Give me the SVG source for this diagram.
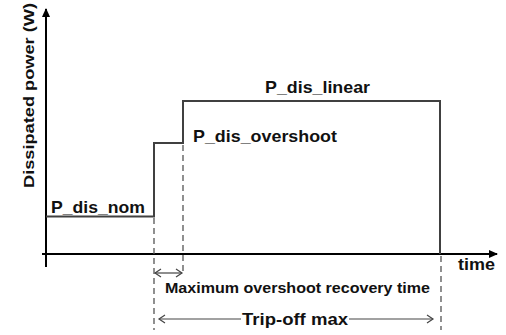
<svg xmlns="http://www.w3.org/2000/svg" width="506" height="335" viewBox="0 0 506 335">
<style>
text{font-family:"Liberation Sans",Arial,sans-serif;font-weight:bold;fill:#111}
.lbl{font-size:17px}
.ax{font-size:15.5px}
.sm{font-size:15.5px}
.axis{stroke:#000;stroke-width:2;fill:none}
.curve{stroke:#404040;stroke-width:2;fill:none}
.dash{stroke:#555;stroke-width:1.3;stroke-dasharray:6,4;fill:none}
.dim{stroke:#444;stroke-width:1.2;fill:none}
</style>
<defs>
<marker id="ah" markerWidth="10" markerHeight="10" refX="8" refY="5" orient="auto" markerUnits="userSpaceOnUse">
<path d="M0,1 L9,5 L0,9 Z" fill="#000"/>
</marker>
<marker id="chev" markerWidth="10" markerHeight="10" refX="8" refY="5" orient="auto-start-reverse" markerUnits="userSpaceOnUse">
<path d="M2,1 L8,5 L2,9" fill="none" stroke="#444" stroke-width="1.2"/>
</marker>
</defs>
<g id="axes">
<line class="axis" x1="46" y1="267" x2="46" y2="9" marker-end="url(#ah)"/>
<line class="axis" x1="42" y1="254" x2="497" y2="254" stroke-width="2.4" marker-end="url(#ah)"/>
<text class="ax" transform="translate(34,188) rotate(-90)" textLength="185" lengthAdjust="spacingAndGlyphs">Dissipated power (W)</text>
<text class="lbl" x="458" y="270" textLength="37" lengthAdjust="spacingAndGlyphs">time</text>
</g>
<g id="curve">
<polyline class="curve" points="46,216.5 154,216.5 154,143 183,143 183,101 440,101 440,254"/>
<text class="lbl" x="51" y="213" textLength="94" lengthAdjust="spacingAndGlyphs">P_dis_nom</text>
<text class="lbl" x="193" y="142" textLength="144" lengthAdjust="spacingAndGlyphs">P_dis_overshoot</text>
<text class="lbl" x="265" y="93" textLength="105" lengthAdjust="spacingAndGlyphs">P_dis_linear</text>
</g>
<g id="connectors">
<line class="dash" x1="154" y1="218" x2="154" y2="330"/>
<line class="dash" x1="183" y1="145" x2="183" y2="275"/>
<line class="dash" x1="441" y1="256" x2="441" y2="330"/>
<line class="dim" x1="155" y1="273" x2="182" y2="273" marker-start="url(#chev)" marker-end="url(#chev)"/>
<line class="dim" x1="159" y1="319" x2="241" y2="319" marker-start="url(#chev)"/>
<line class="dim" x1="349" y1="319" x2="433" y2="319" marker-end="url(#chev)"/>
</g>
<g id="labels">
<text class="sm" x="165" y="293" textLength="265" lengthAdjust="spacingAndGlyphs">Maximum overshoot recovery time</text>
<text class="lbl" x="242" y="325" textLength="106" lengthAdjust="spacingAndGlyphs">Trip-off max</text>
</g>
</svg>
